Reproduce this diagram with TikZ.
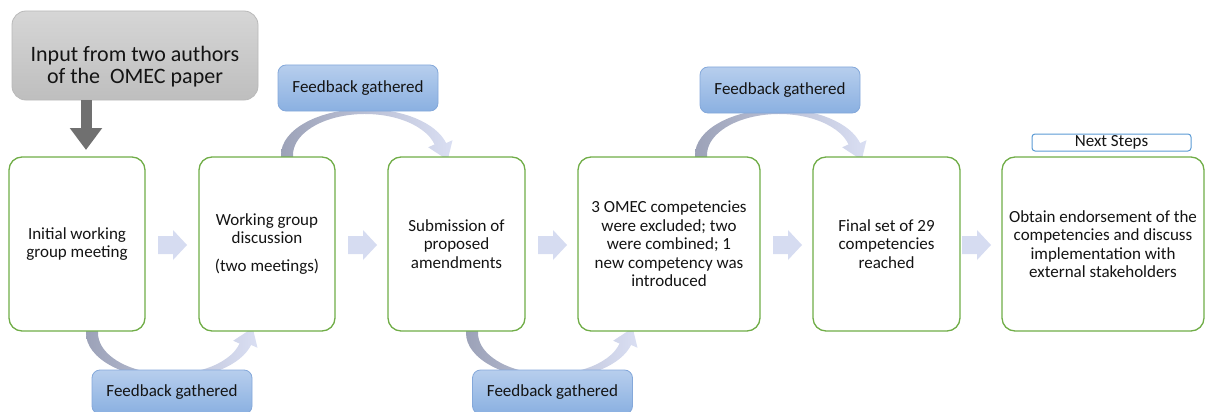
\documentclass[tikz,border=0pt]{standalone}
\usepackage{fontspec}
\setmainfont{Carlito}
\usetikzlibrary{arrows.meta}

\definecolor{boxgreen}{RGB}{112,173,71}
\definecolor{fbtop}{RGB}{183,206,237}
\definecolor{fbbot}{RGB}{138,176,225}
\definecolor{fbline}{RGB}{132,168,218}
\definecolor{intop}{RGB}{214,214,214}
\definecolor{inbot}{RGB}{190,190,190}
\definecolor{inline}{RGB}{185,185,185}
\definecolor{arrgrey}{RGB}{112,112,112}
\definecolor{blockarr}{RGB}{214,220,241}
\definecolor{circdark}{RGB}{156,162,184}
\definecolor{circlight}{RGB}{218,223,243}
\definecolor{nsline}{RGB}{91,155,213}
\definecolor{textcol}{RGB}{20,20,20}

\newcommand\blockarrow[1]{\fill[blockarr] (#1,236) -- ++(15,0) -- ++(0,-6) -- ++(14,15) -- ++(-14,15) -- ++(0,-6) -- ++(-15,0) -- cycle;}

\tikzset{
  stepbox/.style={draw=boxgreen, line width=1.3pt, fill=white, rounded corners=13pt,
    minimum height=174pt, align=center, inner sep=0pt, text=textcol,
    font=\fontsize{17}{18.5}\selectfont},
  fbbox/.style={draw=fbline, line width=0.8pt, top color=fbtop, bottom color=fbbot,
    rounded corners=8pt, minimum width=160pt, minimum height=46pt, inner sep=0pt,
    text=textcol, font=\fontsize{17}{18.5}\selectfont},
  inbox/.style={draw=inline, line width=0.8pt, top color=intop, bottom color=inbot,
    rounded corners=14pt, minimum width=246pt, minimum height=89pt, inner sep=0pt},
  nsbox/.style={draw=nsline, line width=1pt, fill=white, rounded corners=3pt,
    minimum width=159pt, minimum height=17pt, inner sep=0pt, text=textcol,
    font=\fontsize{17}{18}\selectfont},
  downarrow/.style={draw=arrgrey, line width=11pt, -{Triangle[width=31pt,length=22pt]}},
  circarrow/.pic={
    \shade[left color=circdark, right color=circlight]
      (-84,5) -- (-84,0) arc[start angle=180, end angle=345, x radius=84, y radius=46]
      -- (87.5,-14.8) -- (82.7,5.1) -- (63.2,-7.7) -- (69.55,-10.61)
      arc[start angle=345, end angle=180, x radius=72, y radius=41]
      -- (-72,5) -- cycle;
  }
}

\begin{document}
\begin{tikzpicture}[x=1pt,y=-1pt]
\useasboundingbox (0,0) rectangle (1205,412);

% circular feedback arrows
\pic at (365,155) {circarrow};
\pic at (779,155) {circarrow};
\pic[yscale=-1] at (170,333) {circarrow};
\pic[yscale=-1] at (550,333) {circarrow};

% input box and its arrow
\node[inbox] (input) at (135,55.5) {};
\node[font=\fontsize{22}{22.5}\selectfont, align=center, text=textcol] (inputtext) at (135,66.5)
  {Input from two authors\\of the\ \ OMEC paper};
\coordinate (dn1) at (86,100);
\coordinate (dn2) at (86,150);
\draw[downarrow] (dn1) -- (dn2);

% step boxes
\node[stepbox, minimum width=136pt] (b1) at (77,244) {Initial working\\group meeting};
\node[stepbox, minimum width=136pt] (b2) at (267,244) {Working group\\discussion\\[9.5pt](two meetings)};
\node[stepbox, minimum width=137pt] (b3) at (456.5,244) {Submission of\\proposed\\amendments};
\node[stepbox, minimum width=182pt] (b4) at (669,244) {3 OMEC competencies\\were excluded; two\\were combined; 1\\new competency was\\introduced};
\node[stepbox, minimum width=147pt] (b5) at (886.5,244) {Final set of 29\\competencies\\reached};
\node[stepbox, minimum width=202pt] (b6) at (1103,244) {Obtain endorsement of the\\competencies and discuss\\implementation with\\external stakeholders};

% block arrows between steps
\blockarrow{158}
\blockarrow{348}
\blockarrow{538}
\blockarrow{773}
\blockarrow{962}

% feedback boxes
\node[fbbox] (fb1) at (358,88) {Feedback gathered};
\node[fbbox] (fb2) at (780,90) {Feedback gathered};
\node[fbbox, minimum height=44pt] (fb3) at (172,392) {Feedback gathered};
\node[fbbox, minimum height=44pt] (fb4) at (552.5,392) {Feedback gathered};

% next steps label
\node[nsbox] (next) at (1111.5,142.5) {Next Steps};
\end{tikzpicture}
\end{document}
